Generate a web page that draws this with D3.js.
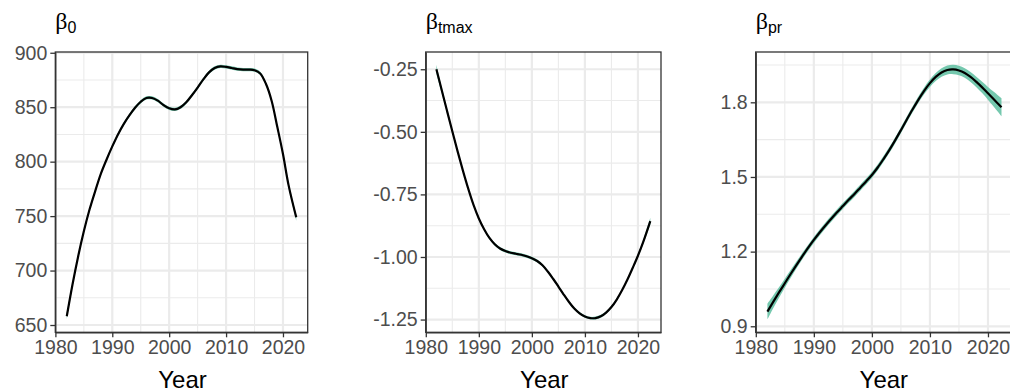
<!DOCTYPE html>
<html>
<head>
<meta charset="utf-8">
<script src="https://cdn.jsdelivr.net/npm/d3@7"></script>
<style>
  body { margin: 0; background: #fff; }
  svg { display: block; }
  text { font-family: "Liberation Sans", Arial, sans-serif; }
</style>
</head>
<body>
<div id="chart"></div>
<script>
const W = 1010, H = 392;

// years of the fitted curve (shared by all three panels)
const years = [1982, 1983, 1984, 1985, 1986, 1987, 1988, 1989, 1990, 1991,
  1992, 1993, 1994, 1995, 1996, 1997, 1998, 1999, 2000, 2001,
  2002, 2003, 2004, 2005, 2006, 2007, 2008, 2009, 2010, 2011,
  2012, 2013, 2014, 2015, 2016, 2017, 2018, 2019, 2020, 2021, 2022.33];

// beta_0
const b0Fit = [658, 687, 713, 736, 756, 773, 789, 802, 814, 825,
  834.5, 842.5, 849.5, 855, 858.5, 858.5, 856, 852, 849, 848,
  850, 854.5, 861, 868, 875.5, 882, 886, 887.5, 887, 886,
  885, 884.5, 884.5, 884, 881, 871.5, 856, 832, 807, 778, 749];
const b0Half = [3, 2.5, 2, 1.8, 1.6, 1.5, 1.5, 1.5, 1.5, 1.5,
  1.5, 1.5, 1.5, 1.5, 1.5, 1.5, 1.5, 1.5, 1.5, 1.5,
  1.5, 1.5, 1.5, 1.5, 1.5, 1.5, 1.5, 1.5, 1.5, 1.5,
  1.5, 1.5, 1.5, 1.5, 1.5, 1.5, 1.6, 1.8, 2, 2.5, 3];

// beta_tmax
const btFit = [-0.25, -0.333, -0.416, -0.498, -0.578, -0.655, -0.727, -0.792, -0.846, -0.889,
  -0.924, -0.949, -0.966, -0.976, -0.983, -0.987, -0.991, -0.997, -1.005, -1.016,
  -1.033, -1.058, -1.087, -1.118, -1.15, -1.18, -1.206, -1.225, -1.238, -1.244,
  -1.244, -1.237, -1.222, -1.2, -1.17, -1.133, -1.091, -1.044, -0.995, -0.94, -0.857];
const btHalf = [0.018, 0.012, 0.009, 0.007, 0.006, 0.005, 0.005, 0.005, 0.005, 0.005,
  0.005, 0.006, 0.006, 0.006, 0.006, 0.006, 0.006, 0.006, 0.006, 0.006,
  0.005, 0.005, 0.005, 0.005, 0.005, 0.005, 0.005, 0.005, 0.005, 0.005,
  0.006, 0.006, 0.005, 0.005, 0.005, 0.005, 0.005, 0.006, 0.007, 0.009, 0.014];

// beta_pr
const bpFit = [0.959, 0.998, 1.036, 1.073, 1.11, 1.146, 1.181, 1.215, 1.247, 1.277,
  1.305, 1.332, 1.358, 1.383, 1.408, 1.432, 1.457, 1.482, 1.508, 1.538,
  1.572, 1.608, 1.647, 1.688, 1.73, 1.771, 1.81, 1.846, 1.877, 1.902,
  1.92, 1.93, 1.932, 1.928, 1.918, 1.902, 1.882, 1.86, 1.836, 1.812, 1.78];
const bpHalf = [0.032, 0.026, 0.021, 0.018, 0.016, 0.014, 0.013, 0.012, 0.012, 0.012,
  0.012, 0.012, 0.012, 0.012, 0.012, 0.012, 0.012, 0.012, 0.012, 0.012,
  0.012, 0.012, 0.012, 0.012, 0.012, 0.012, 0.013, 0.014, 0.015, 0.016,
  0.017, 0.018, 0.019, 0.019, 0.019, 0.02, 0.021, 0.023, 0.026, 0.03, 0.036];

const xTicks = [1980, 1990, 2000, 2010, 2020];
const b0Ticks = [650, 700, 750, 800, 850, 900];
const btTicks = [-1.25, -1.00, -0.75, -0.50, -0.25];
const bpTicks = [0.9, 1.2, 1.5, 1.8];

// plain hyphen for negatives, as R prints them
const fmt = spec => v => d3.format(spec)(v).replace("\u2212", "-");

const panels = [
  { sym: "β", sub: "0", fit: b0Fit, half: b0Half, ticks: b0Ticks, fmt: fmt("d"),
    x0: 55.3, x1: 307.7 },
  { sym: "β", sub: "tmax", fit: btFit, half: btHalf, ticks: btTicks, fmt: fmt(".2f"),
    x0: 425.7, x1: 661 },
  { sym: "β", sub: "pr", fit: bpFit, half: bpHalf, ticks: bpTicks, fmt: fmt(".1f"),
    x0: 755.7, x1: 1013.2 }
];
const TOP = 52, BOT = 332.3;

const svg = d3.select("#chart").append("svg")
  .attr("width", W).attr("height", H);

// ggplot style 5% expansion
function expand(ext) {
  const pad = (ext[1] - ext[0]) * 0.05;
  return [ext[0] - pad, ext[1] + pad];
}
// minor breaks half way between majors, kept inside the limits
function minors(major, dom) {
  const step = major[1] - major[0];
  const out = [];
  for (let i = -1; i < major.length; i++) {
    const v = major[0] + step * (i + 0.5);
    if (v > dom[0] && v < dom[1]) out.push(v);
  }
  return out;
}

panels.forEach((p, k) => {
  const rows = years.map((yr, i) => ({ yr, fit: p.fit[i], lo: p.fit[i] - p.half[i], hi: p.fit[i] + p.half[i] }));
  const xDom = expand(d3.extent(years));
  const yDom = expand([d3.min(rows, d => d.lo), d3.max(rows, d => d.hi)]);
  const x = d3.scaleLinear().domain(xDom).range([p.x0, p.x1]);
  const y = d3.scaleLinear().domain(yDom).range([BOT, TOP]);

  const g = svg.append("g");
  const clipId = "clip" + k;
  g.append("clipPath").attr("id", clipId)
    .append("rect").attr("x", p.x0).attr("y", TOP)
    .attr("width", p.x1 - p.x0).attr("height", BOT - TOP);

  // grid
  const grid = g.append("g").attr("clip-path", `url(#${clipId})`);
  grid.selectAll(".xmin").data(minors(xTicks, xDom)).enter().append("line")
    .attr("x1", d => x(d)).attr("x2", d => x(d)).attr("y1", TOP).attr("y2", BOT)
    .attr("stroke", "#ebebeb").attr("stroke-width", 1.1);
  grid.selectAll(".ymin").data(minors(p.ticks, yDom)).enter().append("line")
    .attr("x1", p.x0).attr("x2", p.x1).attr("y1", d => y(d)).attr("y2", d => y(d))
    .attr("stroke", "#ebebeb").attr("stroke-width", 1.1);
  grid.selectAll(".xmaj").data(xTicks).enter().append("line")
    .attr("x1", d => x(d)).attr("x2", d => x(d)).attr("y1", TOP).attr("y2", BOT)
    .attr("stroke", "#ebebeb").attr("stroke-width", 2.2);
  grid.selectAll(".ymaj").data(p.ticks).enter().append("line")
    .attr("x1", p.x0).attr("x2", p.x1).attr("y1", d => y(d)).attr("y2", d => y(d))
    .attr("stroke", "#ebebeb").attr("stroke-width", 2.2);

  // ribbon + fitted line
  const plot = g.append("g").attr("clip-path", `url(#${clipId})`);
  plot.append("path").datum(rows)
    .attr("d", d3.area().curve(d3.curveCatmullRom)
      .x(d => x(d.yr)).y0(d => y(d.lo)).y1(d => y(d.hi)))
    .attr("fill", "#66c2a5").attr("opacity", 0.9);
  plot.append("path").datum(rows)
    .attr("d", d3.line().curve(d3.curveCatmullRom).x(d => x(d.yr)).y(d => y(d.fit)))
    .attr("fill", "none").attr("stroke", "#000").attr("stroke-width", 2.2);

  // panel border
  g.append("rect").attr("x", p.x0).attr("y", TOP)
    .attr("width", p.x1 - p.x0).attr("height", BOT - TOP)
    .attr("fill", "none").attr("stroke", "#333").attr("stroke-width", 1.3);

  // axes
  const xAxis = g.append("g").attr("transform", `translate(0,${BOT})`)
    .call(d3.axisBottom(x).tickValues(xTicks).tickFormat(d3.format("d"))
      .tickSizeInner(5).tickSizeOuter(0).tickPadding(3));
  const yAxis = g.append("g").attr("transform", `translate(${p.x0},0)`)
    .call(d3.axisLeft(y).tickValues(p.ticks).tickFormat(p.fmt)
      .tickSizeInner(5).tickSizeOuter(0).tickPadding(3));
  [xAxis, yAxis].forEach(a => {
    a.select(".domain").attr("stroke", "#333").attr("stroke-width", 1.3);
    a.selectAll(".tick line").attr("stroke", "#333").attr("stroke-width", 1.3);
    a.selectAll(".tick text").attr("fill", "#4d4d4d")
      .style("font-size", "19.5px").style("font-family", '"Liberation Sans", Arial, sans-serif');
  });

  // axis title
  g.append("text").attr("x", (p.x0 + Math.min(p.x1, W)) / 2 + 1).attr("y", 388)
    .attr("text-anchor", "middle").style("font-size", "24px").attr("fill", "#000")
    .text("Year");

  // panel title
  const t = g.append("text").attr("x", p.x0).attr("y", 28.5).attr("fill", "#000");
  t.append("tspan").style("font-family", '"Liberation Serif", "Times New Roman", serif')
    .style("font-size", "24px").text(p.sym);
  t.append("tspan").attr("dy", 4).style("font-size", "16px").text(p.sub);
});
</script>
</body>
</html>
